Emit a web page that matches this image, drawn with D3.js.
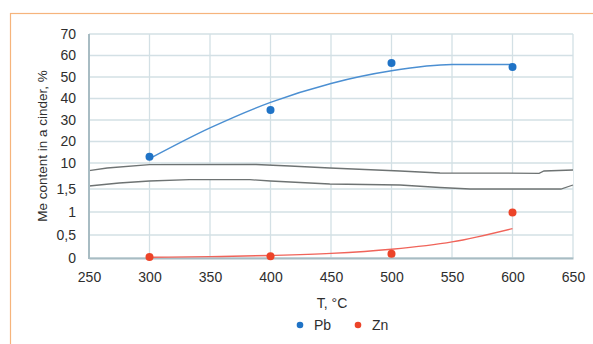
<!DOCTYPE html>
<html>
<head>
<meta charset="utf-8">
<script src="https://cdn.jsdelivr.net/npm/d3@7"></script>
<style>
  html, body { margin: 0; padding: 0; background: #fff; }
  svg { display: block; font-family: "Liberation Sans", Arial, sans-serif; }
  .tick text { fill: #2e2e2e; }
</style>
</head>
<body>
<svg id="chart" width="593" height="344"></svg>
<script>
/* ── DATA ───────────────────────────────────────────────────────────────────── */
const temps      = [300, 400, 500, 600];
const pbValues   = [12.9, 34.6, 56.5, 54.6];
const znValues   = [0.02, 0.04, 0.09, 0.99];

// trend lines
const trendTemps = [300, 350, 400, 450, 500, 550, 600];
const pbTrend    = [12.0, 26.3, 38.2, 47.0, 52.9, 55.8, 55.8];
const znTrend    = [0.015, 0.03, 0.055, 0.1, 0.19, 0.35, 0.64];

const xTicks     = [250, 300, 350, 400, 450, 500, 550, 600, 650];
const topTicks   = [10, 20, 30, 40, 50, 60, 70];
const botTicks   = [0, 0.5, 1, 1.5];

const SERIES = [
  { name: 'Pb', color: '#1f73c6', line: '#4b8fd2' },
  { name: 'Zn', color: '#ec4429', line: '#f0645a' }
];

/* ── LAYOUT ─────────────────────────────────────────────────────────────────── */
const svg = d3.select('#chart');
const L = 89, R = 573, T = 34;
const FONT = 14;

const x    = d3.scaleLinear().domain([250, 650]).range([L, R]);
const yTop = d3.scaleLinear().domain([10, 70]).range([163, T]);
const yBot = d3.scaleLinear().domain([0, 1.5]).range([258, 189]);

const fmt = d => String(d).replace('.', ',');

// orange frame
svg.append('rect')
  .attr('x', 10.5).attr('y', 13.5).attr('width', 600).attr('height', 340)
  .attr('fill', 'none').attr('stroke', '#f6b47c').attr('stroke-width', 1.2);

/* ── GRID ───────────────────────────────────────────────────────────────────── */
const grid = svg.append('g').attr('stroke', '#d3e0e5').attr('stroke-width', 1.3);

grid.selectAll('.hgt').data(topTicks).join('line')
  .attr('x1', L).attr('x2', R)
  .attr('y1', d => yTop(d)).attr('y2', d => yTop(d));
grid.selectAll('.hgb').data(botTicks).join('line')
  .attr('x1', L).attr('x2', R)
  .attr('y1', d => yBot(d)).attr('y2', d => yBot(d));
grid.selectAll('.vg').data(xTicks.slice(1)).join('line')
  .attr('x1', d => x(d)).attr('x2', d => x(d))
  .attr('y1', T).attr('y2', yBot(0));

/* ── AXIS BREAK ─────────────────────────────────────────────────────────────── */
const upperWave = [[250,170.7],[265,168],[300,164.7],[388,164.5],[416,166],[449,168],
                   [507,171],[540,173],[622,173.3],[626,171],[650,170]];
const lowerWave = [[250,186],[275,183],[300,181],[333,179.7],[383,179.7],[400,181],
                   [449,184],[507,185],[540,187.5],[565,189],[640,189],[650,185]];

const band = upperWave.concat(lowerWave.slice().reverse());
svg.append('path')
  .attr('d', d3.line().x(p => x(p[0])).y(p => p[1])(band) + 'Z')
  .attr('fill', '#fff');
[upperWave, lowerWave].forEach(w => {
  svg.append('path')
    .attr('d', d3.line().x(p => x(p[0])).y(p => p[1])(w))
    .attr('fill', 'none').attr('stroke', '#6e7373').attr('stroke-width', 1.3);
});

/* ── AXES ───────────────────────────────────────────────────────────────────── */
svg.append('g')
  .attr('transform', `translate(0,${yBot(0)})`)
  .call(d3.axisBottom(x).tickValues(xTicks).tickSize(0).tickPadding(14))
  .call(g => g.select('.domain').attr('stroke', '#a8bcc3').attr('stroke-width', 2));

svg.append('g')
  .attr('transform', `translate(${L},0)`)
  .call(d3.axisLeft(yTop).tickValues(topTicks).tickSize(0).tickPadding(13))
  .call(g => g.select('.domain').remove());
svg.append('g')
  .attr('transform', `translate(${L},0)`)
  .call(d3.axisLeft(yBot).tickValues(botTicks).tickFormat(fmt).tickSize(0).tickPadding(13))
  .call(g => g.select('.domain').remove());

svg.append('line')
  .attr('x1', L).attr('x2', L).attr('y1', T).attr('y2', yBot(0) + 1)
  .attr('stroke', '#a8bcc3').attr('stroke-width', 2);

svg.selectAll('.tick text').attr('font-size', FONT).attr('font-family', null);

/* ── SERIES ─────────────────────────────────────────────────────────────────── */
const pbLine = d3.line().curve(d3.curveMonotoneX)
  .x((d, i) => x(trendTemps[i])).y(d => yTop(d));
const znLine = d3.line().curve(d3.curveMonotoneX)
  .x((d, i) => x(trendTemps[i])).y(d => yBot(d));

svg.append('path').attr('d', pbLine(pbTrend))
  .attr('fill', 'none').attr('stroke', SERIES[0].line).attr('stroke-width', 1.4);
svg.append('path').attr('d', znLine(znTrend))
  .attr('fill', 'none').attr('stroke', SERIES[1].line).attr('stroke-width', 1.4);

svg.selectAll('.pb').data(pbValues).join('circle')
  .attr('cx', (d, i) => x(temps[i])).attr('cy', d => yTop(d))
  .attr('r', 4).attr('fill', SERIES[0].color);
svg.selectAll('.zn').data(znValues).join('circle')
  .attr('cx', (d, i) => x(temps[i])).attr('cy', d => yBot(d))
  .attr('r', 4).attr('fill', SERIES[1].color);

/* ── TITLES & LEGEND ────────────────────────────────────────────────────────── */
svg.append('text')
  .attr('x', 332).attr('y', 308).attr('text-anchor', 'middle')
  .attr('font-size', FONT).attr('fill', '#2e2e2e').text('T, °C');

svg.append('text')
  .attr('transform', 'translate(47,146) rotate(-90)')
  .attr('text-anchor', 'middle')
  .attr('font-size', 13.5).attr('fill', '#2e2e2e').text('Me content in a cinder, %');

const legend = svg.append('g').attr('transform', 'translate(300,325)');
const lx = [0, 58];
SERIES.forEach((s, i) => {
  legend.append('circle').attr('cx', lx[i]).attr('cy', 0).attr('r', 3.3).attr('fill', s.color);
  legend.append('text').attr('x', lx[i] + 14).attr('y', 5)
    .attr('font-size', FONT).attr('fill', '#2e2e2e').text(s.name);
});
</script>
</body>
</html>
